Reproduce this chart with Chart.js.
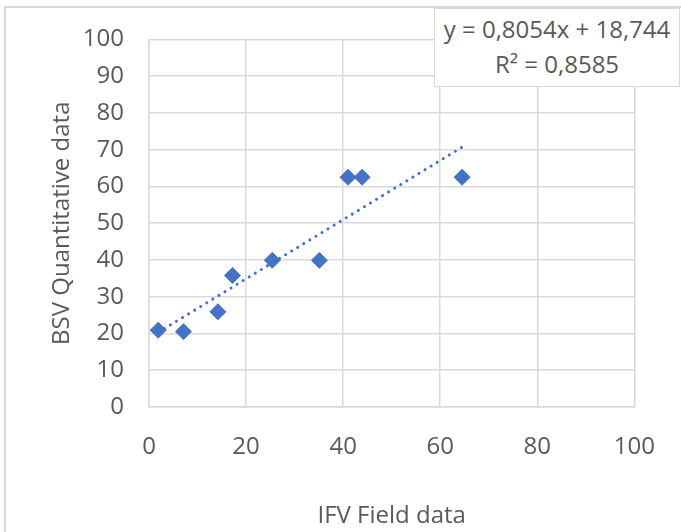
<!DOCTYPE html>
<html>
<head>
<meta charset="utf-8">
<script src="https://cdn.jsdelivr.net/npm/chart.js@4.4.1/dist/chart.umd.min.js"></script>
<style>
    html, body { margin: 0; padding: 0; background: #fff; }
    #wrap { position: relative; width: 681px; height: 532px; overflow: hidden; }
    #frame { position: absolute; left: 4px; top: 6px; right: -10px; bottom: -10px;
             border-left: 2px solid #d9d9d9; border-top: 2px solid #d9d9d9; }
    #chart { position: absolute; left: 0; top: 0; }
    #eq { position: absolute; left: 434px; top: 8px; width: 244px; height: 75px;
          background: #fff; border: 1.5px solid #d9d9d9; color: #595959;
          font-family: "Open Sans", sans-serif; font-size: 24px; line-height: 35px;
          text-align: center; padding-top: 2px; }
</style>
</head>
<body>
<div id="wrap">
    <div id="frame"></div>
    <canvas id="chart" width="681" height="532"></canvas>
    <div id="eq">y = 0,8054x + 18,744<br>R² = 0,8585</div>
</div>
<script>
const ifvField = [1.9, 7.1, 14.2, 17.2, 25.4, 35.1, 41.0, 43.9, 64.5];
const bsvQuant = [20.9, 20.5, 25.9, 35.8, 39.9, 39.9, 62.5, 62.5, 62.5];

// trendline end points, y = 0,8054x + 18,744
const trendX = [1.9, 64.5];
const trendY = [20.3, 70.7];

const xTicks = [0, 20, 40, 60, 80, 100];
const yTicks = [0, 10, 20, 30, 40, 50, 60, 70, 80, 90, 100];

const BLUE = '#4472c4';
const GRID = '#d9d9d9';
const TEXT = '#595959';
const FONT = '"Open Sans", sans-serif';

const points = ifvField.map((x, i) => ({ x: x, y: bsvQuant[i] }));
const trend = trendX.map((x, i) => ({ x: x, y: trendY[i] }));

new Chart(document.getElementById('chart'), {
    type: 'scatter',
    data: {
        datasets: [
            {
                label: 'data',
                data: points,
                pointStyle: 'rectRot',
                pointRadius: 8,
                pointBackgroundColor: BLUE,
                pointBorderColor: BLUE,
                pointBorderWidth: 1
            },
            {
                label: 'trend',
                type: 'line',
                data: trend,
                borderColor: BLUE,
                borderWidth: 3,
                borderDash: [0.1, 7],
                borderCapStyle: 'round',
                pointRadius: 0,
                fill: false
            }
        ]
    },
    options: {
        responsive: false,
        devicePixelRatio: 1,
        animation: false,
        layout: { padding: { left: 0, top: 37, right: 45, bottom: 0 } },
        plugins: {
            legend: { display: false },
            tooltip: { enabled: false }
        },
        scales: {
            x: {
                type: 'linear',
                min: 0, max: 100,
                afterBuildTicks: s => { s.ticks = xTicks.map(v => ({ value: v })); },
                afterFit: s => { s.height = 125; },
                grid: { color: GRID, lineWidth: 1.5, drawTicks: false },
                border: { color: GRID, width: 1.5 },
                ticks: { color: TEXT, font: { family: FONT, size: 24 }, padding: 26, maxRotation: 0 },
                title: {
                    display: true, text: 'IFV Field data', color: TEXT,
                    font: { family: FONT, size: 24 }, padding: { top: 0, bottom: 1 }
                }
            },
            y: {
                type: 'linear',
                min: 0, max: 100,
                afterBuildTicks: s => { s.ticks = yTicks.map(v => ({ value: v })); },
                afterFit: s => { s.width = 149; },
                grid: { color: GRID, lineWidth: 1.5, drawTicks: false },
                border: { color: GRID, width: 1.5 },
                ticks: { color: TEXT, font: { family: FONT, size: 24 }, padding: 25 },
                title: {
                    display: true, text: 'BSV Quantitative data', color: TEXT,
                    font: { family: FONT, size: 24 }, padding: { top: 48, bottom: 0 }
                }
            }
        }
    }
});
</script>
</body>
</html>
